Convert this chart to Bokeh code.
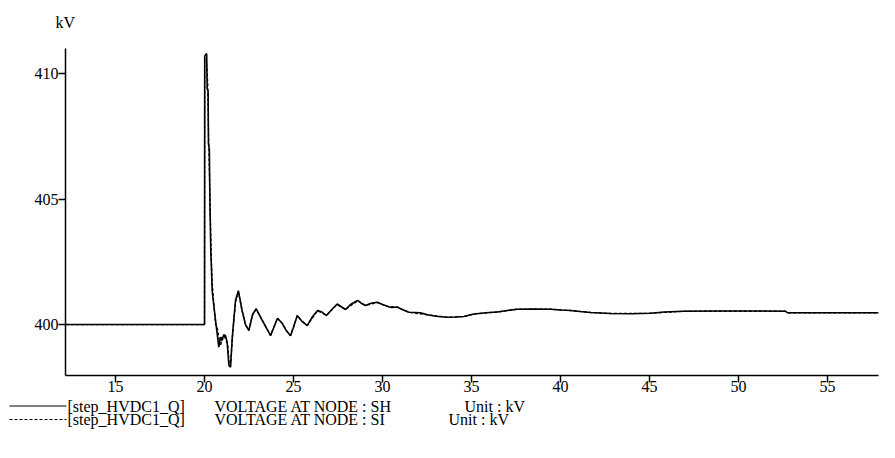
from bokeh.plotting import figure
from bokeh.models import Range1d, FixedTicker, ColumnDataSource
from bokeh.layouts import column
from bokeh.core.properties import value
from bokeh.embed import file_html
from bokeh.resources import INLINE

# ---- data (time in s, voltage in kV) ----
t_sh = [12.2, 20.0, 20.01, 20.12, 20.15, 20.2, 20.22, 20.27, 20.3, 20.35, 20.4, 20.43, 20.5,
        20.62, 20.71, 20.80, 20.9, 20.99, 21.08, 21.18, 21.27, 21.37, 21.46, 21.56, 21.74,
        21.9, 22.11, 22.3, 22.49, 22.7, 22.9, 23.15, 23.45, 23.71, 23.9, 24.1, 24.37, 24.6,
        24.83, 25.0, 25.21, 25.45, 25.77, 26.05, 26.35, 26.6, 26.85, 27.15, 27.45, 27.7,
        27.92, 28.2, 28.45, 28.6, 28.8, 29.04, 29.35, 29.7, 30.0, 30.3, 30.5, 30.82, 31.1,
        31.48, 32.13, 32.51, 33.0, 33.63, 34.1, 34.57, 35.13, 35.8, 36.44, 37.0, 37.56,
        38.5, 39.44, 40.0, 40.56, 41.1, 41.69, 42.81, 44.0, 45.06, 45.8, 46.93, 49.0, 51.0,
        52.64, 52.74, 55.0, 57.86]
v_sh = [400.0, 400.0, 410.7, 410.8, 409.4, 409.3, 407.2, 407.0, 405.0, 403.0, 402.0, 401.35, 400.9,
        400.16, 399.64, 399.1, 399.5, 399.36, 399.6, 399.56, 399.3, 398.37, 398.3, 399.5, 400.96,
        401.35, 400.56, 400.0, 399.76, 400.4, 400.63, 400.29, 399.9, 399.56, 399.9, 400.25, 400.04, 399.75,
        399.55, 399.9, 400.36, 400.15, 399.96, 400.3, 400.56, 400.5, 400.36, 400.6, 400.82, 400.7,
        400.6, 400.8, 400.9, 400.96, 400.85, 400.76, 400.85, 400.89, 400.8, 400.72, 400.68, 400.7, 400.6,
        400.49, 400.47, 400.39, 400.33, 400.29, 400.3, 400.32, 400.42, 400.47, 400.5, 400.56, 400.61,
        400.62, 400.61, 400.58, 400.56, 400.52, 400.48, 400.44, 400.43, 400.45, 400.5, 400.53, 400.54, 400.54,
        400.53, 400.47, 400.47, 400.47]

t_si = [12.2, 20.0, 20.01, 20.1, 20.18, 20.23, 20.3, 20.36, 20.42, 20.5, 20.62, 20.71, 20.8,
        20.9, 21.0, 21.1, 21.2, 21.3, 21.38, 21.46, 21.56, 21.74, 21.9, 22.11, 22.3, 22.49,
        22.7, 22.9, 23.15, 23.45, 23.71, 23.9, 24.1, 24.37, 24.6, 24.83, 25.0, 25.21, 25.45,
        25.77, 26.35, 26.85, 27.45, 27.92, 28.6, 29.04, 29.7, 30.3, 30.82, 31.48, 32.51,
        33.63, 34.57, 35.13, 36.44, 37.56, 39.44, 40.56, 41.69, 42.81, 45.06, 46.93, 52.64,
        52.74, 57.86]
v_si = [400.0, 400.0, 410.5, 410.6, 409.6, 407.5, 405.2, 403.2, 401.8, 401.0, 400.0, 399.9, 399.5,
        399.15, 399.5, 399.55, 399.4, 399.2, 398.5, 398.35, 399.45, 400.9, 401.3, 400.55, 400.0, 399.78,
        400.4, 400.6, 400.3, 399.9, 399.58, 399.9, 400.24, 400.05, 399.76, 399.56, 399.9, 400.35, 400.15,
        399.97, 400.55, 400.37, 400.8, 400.6, 400.95, 400.76, 400.88, 400.72, 400.7, 400.49, 400.39,
        400.29, 400.32, 400.42, 400.5, 400.61, 400.61, 400.56, 400.48, 400.44, 400.45, 400.53, 400.53,
        400.47, 400.47]

x_ticks = [15, 20, 25, 30, 35, 40, 45, 50, 55]
y_ticks = [400, 405, 410]
series_tags = ["[step_HVDC1_Q]", "[step_HVDC1_Q]"]
series_desc = ["VOLTAGE AT NODE : SH", "VOLTAGE AT NODE : SI"]
series_unit = ["Unit : kV", "Unit : kV"]
series_dash = ["solid", "3 2"]
y_unit = "kV"

FONT = "Liberation Serif"
W = 880


def no_align(f):
    if "frame_align" in f.properties():
        f.frame_align = False
    return f


def bare(height, yr):
    f = figure(width=W, height=height, output_backend="svg", toolbar_location=None,
               x_range=Range1d(0, W), y_range=yr, x_axis_type=None, y_axis_type=None,
               min_border=0, min_border_left=0, min_border_right=0,
               min_border_top=0, min_border_bottom=0)
    f.outline_line_color = None
    f.grid.visible = False
    return no_align(f)


# ---- header with unit label ----
p0 = bare(40, Range1d(40, 0))
p0.text(x=[55], y=[22], text=[y_unit], text_font=value(FONT), text_font_size=value("16px"),
        text_baseline="middle", text_color="black")

# ---- main chart ----
p = figure(width=W, height=358, output_backend="svg", toolbar_location=None,
           x_range=Range1d(12.19, 57.86), y_range=Range1d(397.97, 411.0),
           min_border_left=65, min_border_right=2, min_border_top=8, min_border_bottom=23)
no_align(p)
p.outline_line_color = None
p.xgrid.visible = False
p.ygrid.visible = False

for ax in (p.xaxis[0], p.yaxis[0]):
    ax.axis_line_color = "black"
    ax.axis_line_width = 1.5
    ax.major_tick_line_color = "black"
    ax.major_tick_line_width = 1.5
    ax.major_tick_out = 7
    ax.major_tick_in = 0
    ax.minor_tick_line_color = None
    ax.major_label_text_font = FONT
    ax.major_label_text_font_size = "16px"
    ax.major_label_text_color = "black"
p.xaxis[0].major_label_standoff = -2
p.yaxis[0].major_label_standoff = 0
p.xaxis[0].ticker = FixedTicker(ticks=x_ticks)
p.yaxis[0].ticker = FixedTicker(ticks=y_ticks)

src_sh = ColumnDataSource(dict(t=t_sh, v=v_sh))
src_si = ColumnDataSource(dict(t=t_si, v=v_si))
p.line("t", "v", source=src_si, line_color="black", line_width=1.3, line_dash="3 2")
p.line("t", "v", source=src_sh, line_color="black", line_width=1.6)

# ---- legend block below (page y coordinates 398..432) ----
p2 = bare(34, Range1d(432, 398))
row_y = [405.5, 419]
for i in range(2):
    p2.line(x=[9, 66], y=[row_y[i], row_y[i]], line_color="black", line_width=1,
            line_dash=series_dash[i])
p2.text(x=[67, 67], y=row_y, text=series_tags, text_font=value(FONT),
        text_font_size=value("16px"), text_baseline="middle", text_color="black")
p2.text(x=[214, 214], y=row_y, text=series_desc, text_font=value(FONT),
        text_font_size=value("16px"), text_baseline="middle", text_color="black")
p2.text(x=[464, 448], y=row_y, text=series_unit, text_font=value(FONT),
        text_font_size=value("16px"), text_baseline="middle", text_color="black")

open("out.html", "w").write(file_html(column(p0, p, p2, spacing=0), INLINE))
